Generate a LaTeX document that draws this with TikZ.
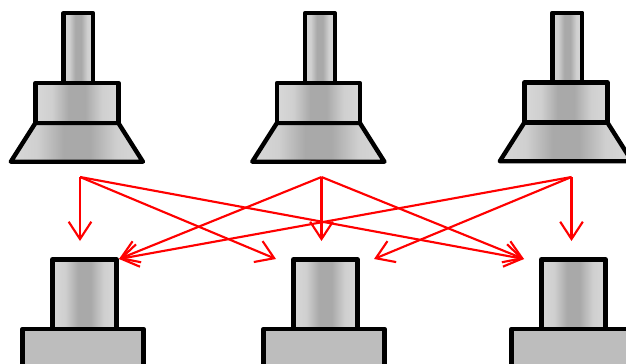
\documentclass[tikz,border=0pt]{standalone}
\usepackage{tikz}
\usetikzlibrary{arrows.meta}

\definecolor{edgegray}{HTML}{D6D6D6}
\definecolor{midgray}{HTML}{A9A9A9}
\definecolor{basegray}{HTML}{BDBDBD}

\pgfdeclarehorizontalshading{partshade}{100bp}{
    color(0bp)=(edgegray); color(27bp)=(edgegray); color(35bp)=(edgegray!85!midgray);
    color(45bp)=(midgray); color(55bp)=(midgray); color(65bp)=(edgegray!85!midgray);
    color(73bp)=(edgegray); color(100bp)=(edgegray)}

\tikzset{
    part/.style={draw=black, line width=3.3pt, line join=round, shading=partshade},
    basepart/.style={draw=black, line width=3.3pt, line join=round, fill=basegray},
    ray/.style={draw=red, line width=1.6pt,
        -{Straight Barb[length=13pt, width=17pt, line width=1.6pt]}}
}

\begin{document}
\begin{tikzpicture}[x=0.75pt, y=-0.75pt]
    \useasboundingbox (0,0) rectangle (626,364);

    % upper units
    \foreach \dx/\dy in {0/0, 241.5/0, 489/-0.5} {
        \draw[part] (10.8+\dx,161.7+\dy) -- (35.4+\dx,123+\dy) -- (118.4+\dx,123+\dy)
            -- (142.9+\dx,161.7+\dy) -- cycle;
        \draw[part] (35.4+\dx,83+\dy) rectangle (118.4+\dx,123+\dy);
        \draw[part] (63.3+\dx,13.2+\dy) rectangle (93.2+\dx,83+\dy);
    }

    % lower units
    \foreach \dx in {0, 241, 489} {
        \draw[basepart] (22.4+\dx,329) rectangle (143.4+\dx,372);
        \draw[part] (52.4+\dx,259.3) rectangle (116.4+\dx,329);
    }

    \coordinate (s1) at (80,177);
    \coordinate (s2) at (321.5,177);
    \coordinate (s3) at (571.5,177);

    \coordinate (d1) at (80,241);
    \coordinate (d2) at (321.5,241);
    \coordinate (d3) at (571.5,241);

    \coordinate (t1) at (119,259);
    \coordinate (t2) at (276,259);
    \coordinate (t3) at (374,259);
    \coordinate (t4) at (524,259);

    \draw[ray] (s1) -- (d1);
    \draw[ray] (s1) -- (t2);
    \draw[ray] (s1) -- (t4);
    \draw[ray] (s2) -- (t1);
    \draw[ray] (s2) -- (d2);
    \draw[ray] (s2) -- (t4);
    \draw[ray] (s3) -- (t1);
    \draw[ray] (s3) -- (t3);
    \draw[ray] (s3) -- (d3);
\end{tikzpicture}
\end{document}
